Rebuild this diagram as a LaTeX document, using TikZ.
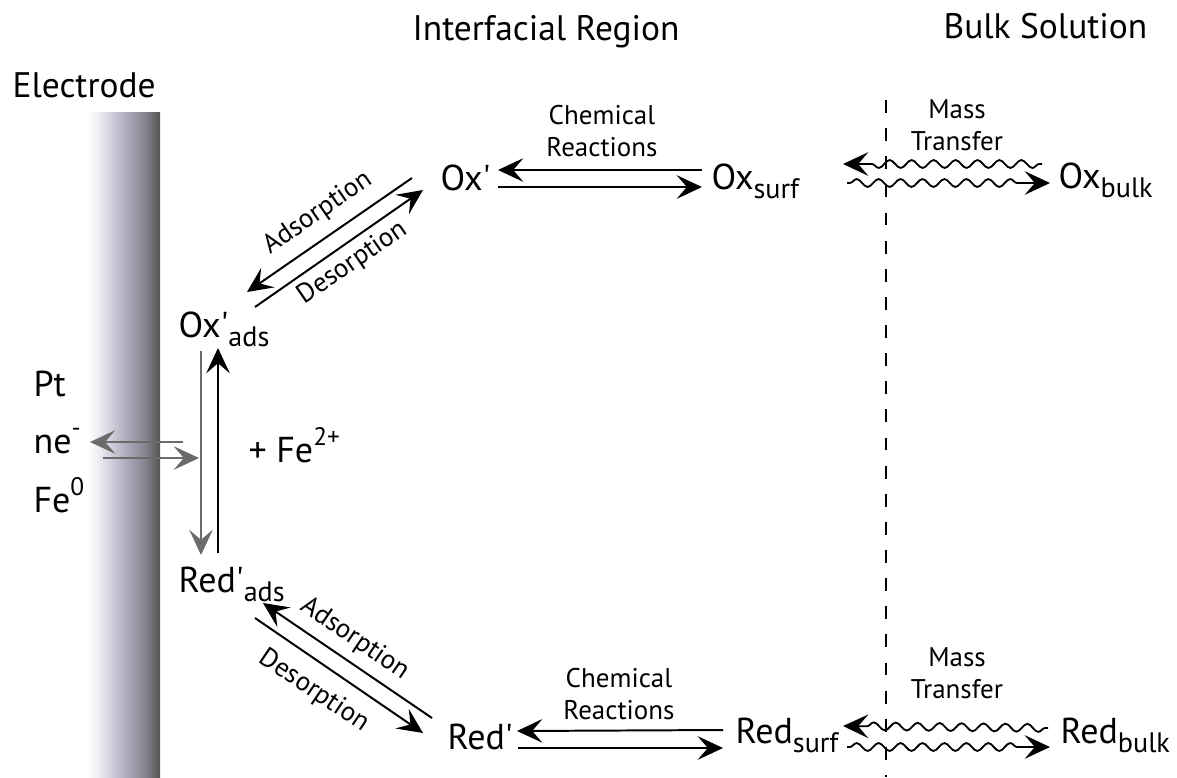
\documentclass[tikz,border=0pt]{standalone}
\usepackage{fontspec}
\setmainfont{PT Sans}
\usepackage{tikz}
\usetikzlibrary{positioning,calc}
\usetikzlibrary{arrows.meta}
\usetikzlibrary{decorations.pathmorphing}
\tikzset{head/.tip={Stealth[length=9pt,width=8.4pt,inset=3.6pt]}}
\pgfdeclarehorizontalshading{electrode}{100bp}{rgb(0bp)=(1,1,1); rgb(25bp)=(1,1,1);
  rgb(31bp)=(0.94,0.94,0.96); rgb(37bp)=(0.87,0.87,0.91); rgb(46bp)=(0.75,0.74,0.80);
  rgb(55bp)=(0.64,0.63,0.69); rgb(63bp)=(0.55,0.54,0.59); rgb(69bp)=(0.44,0.44,0.46);
  rgb(75bp)=(0.33,0.33,0.33); rgb(100bp)=(0.33,0.33,0.33)}
\newcommand\pr{\textquotesingle}
\newcommand\lwr[1]{\raisebox{-0.5ex}{\fontsize{10}{12}\selectfont #1}}
\newcommand\upr[1]{\raisebox{0.9ex}{\fontsize{9}{11}\selectfont #1}}

\begin{document}
\begin{tikzpicture}
	[x=0.0125cm,y=-0.0125cm,
	species/.style={anchor=base west,inner sep=0pt,font=\fontsize{12.8}{15}\selectfont},
	region/.style={anchor=base west,inner sep=0pt,font=\fontsize{12.6}{15}\selectfont},
	note/.style={font=\fontsize{9.6}{11.4}\selectfont,align=center,inner sep=0pt},
	rx/.style={-head,line width=0.7pt},
	grayrx/.style={-head,line width=0.6pt,draw=black!58,fill=black!58},
	wavy/.style={-head,line width=0.65pt,decorate,
		decoration={snake,segment length=7.8pt,amplitude=1.4pt,pre length=1pt,post length=8pt}}]
	\useasboundingbox (0,0) rectangle (1177,777);
	% electrode
	\shade[shading=electrode] (88,112) rectangle (160,777);
	\node[region] (el) at (12,97) {Electrode};
	\node[region] (ir) at (412,40) {Interfacial Region};
	\node[region] (bs) at (943,38) {Bulk Solution};
	% boundary of the bulk solution
	\coordinate (bnd1) at (886,100);
	\coordinate (bnd2) at (886,777);
	\draw[line width=0.7pt,dash pattern=on 4.6pt off 5.4pt] (bnd1) -- (bnd2);
	% species
	\node[species] (oxp) at (440,190) {Ox\pr};
	\node[species] (oxs) at (711,189) {Ox\lwr{surf}};
	\node[species] (oxb) at (1058,188) {Ox\lwr{bulk}};
	\node[species] (oxa) at (178,337) {Ox\pr\lwr{ads}};
	\node[species] (reda) at (178,592) {Red\pr\lwr{ads}};
	\node[species] (redp) at (447,749) {Red\pr};
	\node[species] (reds) at (735,743) {Red\lwr{surf}};
	\node[species] (redb) at (1060,743) {Red\lwr{bulk}};
	\node[species] (pt) at (33,396) {Pt};
	\node[species] (ne) at (33,453) {ne\upr{-}};
	\node[species] (fe) at (33,512) {Fe\upr{0}};
	\node[species] (fe2) at (248,462) {+ Fe\upr{2+}};
	% labels
	\node[note] (chem1) at (602,131) {Chemical\\Reactions};
	\node[note] (chem2) at (619,694) {Chemical\\Reactions};
	\node[note] (mass1) at (957,125) {Mass\\Transfer};
	\node[note] (mass2) at (957,673) {Mass\\Transfer};
	\node[note,rotate=34.6] (ads1) at (318,213) {Adsorption};
	\node[note,rotate=34.6] (des1) at (353,263) {Desorption};
	\node[note,rotate=-34.2] (ads2) at (355,639) {Adsorption};
	\node[note,rotate=-34.2] (des2) at (314,691) {Desorption};
	% chemical reactions
	\draw[rx] ($(oxs.base west)+(-9,-19)$) -- ($(oxp.base west)+(58,-20)$);
	\draw[rx] ($(oxp.base west)+(58,-3)$) -- ($(oxs.base west)+(-9,-2)$);
	\draw[rx] ($(reds.base west)+(-12,-13)$) -- ($(redp.base west)+(70,-18)$);
	\draw[rx] ($(redp.base west)+(71,-1)$) -- ($(reds.base west)+(-12,5)$);
	% adsorption and desorption
	\draw[rx] ($(oxp.base west)+(-28,-12)$) -- ($(oxa.base west)+(69,-45)$);
	\draw[rx] ($(oxa.base west)+(77,-30)$) -- ($(oxp.base west)+(-17,0)$);
	\draw[rx] ($(redp.base west)+(-15,-31)$) -- ($(reda.base west)+(85,11)$);
	\draw[rx] ($(reda.base west)+(77,26)$) -- ($(redp.base west)+(-24,-16)$);
	% electron transfer
	\draw[grayrx] ($(oxa.base west)+(23,14)$) -- ($(reda.base west)+(23,-37)$);
	\draw[rx,line width=0.55pt] ($(reda.base west)+(40,-39)$) -- ($(oxa.base west)+(40,11)$);
	\draw[grayrx] ($(ne.base west)+(150,-11)$) -- ($(ne.base west)+(57,-11)$);
	\draw[grayrx] ($(ne.base west)+(70,5)$) -- ($(ne.base west)+(166,5)$);
	% mass transfer
	\draw[wavy] ($(oxb.base west)+(-16,-24)$) -- ($(oxs.base west)+(132,-25)$);
	\draw[wavy] ($(oxs.base west)+(136,-6)$) -- ($(oxb.base west)+(-8,-5)$);
	\draw[wavy] ($(redb.base west)+(-12,-15)$) -- ($(reds.base west)+(108,-17)$);
	\draw[wavy] ($(reds.base west)+(112,4)$) -- ($(redb.base west)+(-10,4)$);
\end{tikzpicture}
\end{document}
